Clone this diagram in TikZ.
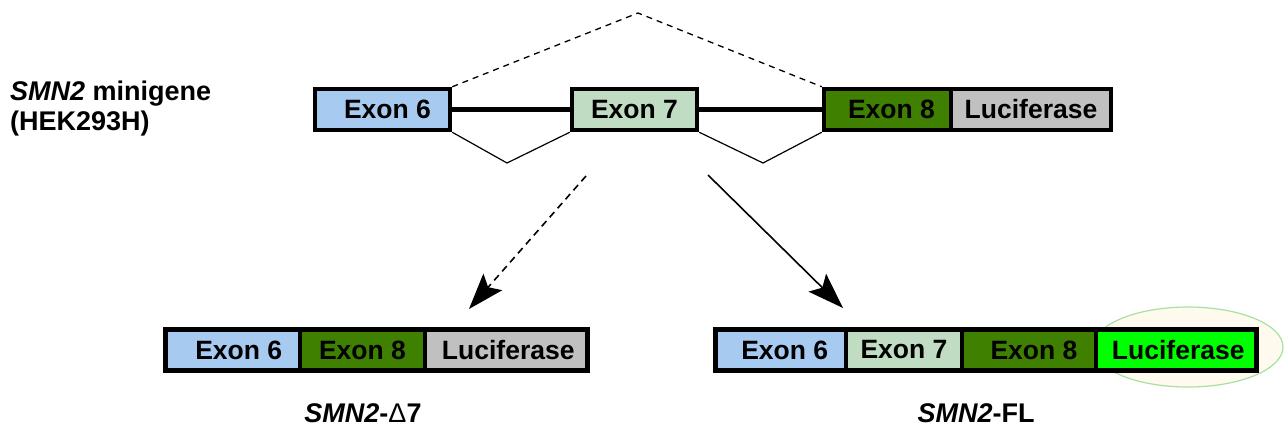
\documentclass[tikz,border=0pt]{standalone}
\usepackage{fontspec}
\setmainfont{Liberation Sans}
\usetikzlibrary{arrows.meta}

\definecolor{exsix}{HTML}{A6CAF0}
\definecolor{exseven}{HTML}{C0DCC2}
\definecolor{exeight}{HTML}{408000}
\definecolor{lucgray}{HTML}{C0C0C0}
\definecolor{lucgreen}{HTML}{00FF00}
\definecolor{glowfill}{HTML}{FFFAEE}
\definecolor{glowline}{HTML}{A8E0A0}

\tikzset{
  exonbox/.style={draw=black, line width=4.5pt, inner sep=0pt,
    minimum height=41pt, font=\fontsize{26.5}{30}\selectfont\bfseries},
  intron/.style={line width=4.5pt},
  splice/.style={line width=1.2pt},
  skipline/.style={line width=1.3pt, dash pattern=on 6pt off 5pt},
  prodarrow/.style={line width=1.6pt, -{Stealth[length=36pt,width=25pt,inset=7pt]}},
  caption/.style={font=\fontsize{27}{30}\selectfont\bfseries, inner sep=0pt}
}

\begin{document}
\begin{tikzpicture}[x=1pt,y=-1pt]
\useasboundingbox (0,0) rectangle (1285,434);

% minigene label
\node[caption, anchor=base west] (mg1) at (10,100) {\textit{SMN2} minigene};
\node[caption, anchor=base west] (mg2) at (10,130) {(HEK293H)};

% pre-mRNA: exons and introns
\node[exonbox, fill=exsix,   minimum width=135pt] (t6) at (382.5,109.5) {\hspace{10pt}Exon 6};
\node[exonbox, fill=exseven, minimum width=125pt] (t7) at (634.5,109.5) {Exon 7};
\node[exonbox, fill=exeight, minimum width=127pt] (t8) at (887.5,109.5) {\hspace{8pt}Exon 8};
\node[exonbox, fill=lucgray,  minimum width=160pt] (tl) at (1031,109.5) {Luciferase};
\draw[intron] (t6.east) -- (t7.west);
\draw[intron] (t7.east) -- (t8.west);

% exon 7 skipping
\coordinate (peak) at (638,13);
\draw[skipline] (t6.north east) -- (peak) -- (t8.north west);

% inclusion splicing
\coordinate (va) at (507,163);
\coordinate (vb) at (763,163);
\draw[splice] (t6.south east) -- (va) -- (t7.south west);
\draw[splice] (t7.south east) -- (vb) -- (t8.south west);

% products
\coordinate (skipfrom) at (586,176);
\coordinate (skipto) at (469,309);
\coordinate (fullfrom) at (708,175);
\coordinate (fullto) at (843,308);
\draw[prodarrow, dash pattern=on 7pt off 5pt] (skipfrom) -- (skipto);
\draw[prodarrow] (fullfrom) -- (fullto);

% SMN2-delta7 transcript
\node[exonbox, fill=exsix,   minimum width=134.5pt] (d6) at (232.75,350) {\hspace{12pt}Exon 6};
\node[exonbox, fill=exeight, minimum width=125pt]   (d8) at (362.5,350) {Exon 8};
\node[exonbox, fill=lucgray,  minimum width=162.5pt] (dl) at (506.25,350) {\hspace{4pt}Luciferase};
\node[caption, anchor=base] (dlab) at (363,422) {\textit{SMN2}-{\mdseries Δ}7};

% SMN2 full-length transcript, luciferase highlighted
\fill[glowfill] (1188,347) ellipse [x radius=95, y radius=40];
\draw[glowline, line width=1.2pt] (1188,347) ellipse [x radius=95, y radius=40];
\node[exonbox, fill=exsix,    minimum width=130.5pt] (f6) at (780.75,350) {\hspace{8pt}Exon 6};
\node[exonbox, fill=exseven,  minimum width=116pt]   (f7) at (904,350) {Exon 7};
\node[exonbox, fill=exeight,  minimum width=134pt]   (f8) at (1029,350) {\hspace{10pt}Exon 8};
\node[exonbox, fill=lucgreen, minimum width=160.5pt] (fl) at (1176.25,350) {\hspace{4pt}Luciferase};
\node[caption, anchor=base] (flab) at (976,422) {\textit{SMN2}-FL};
\end{tikzpicture}
\end{document}
